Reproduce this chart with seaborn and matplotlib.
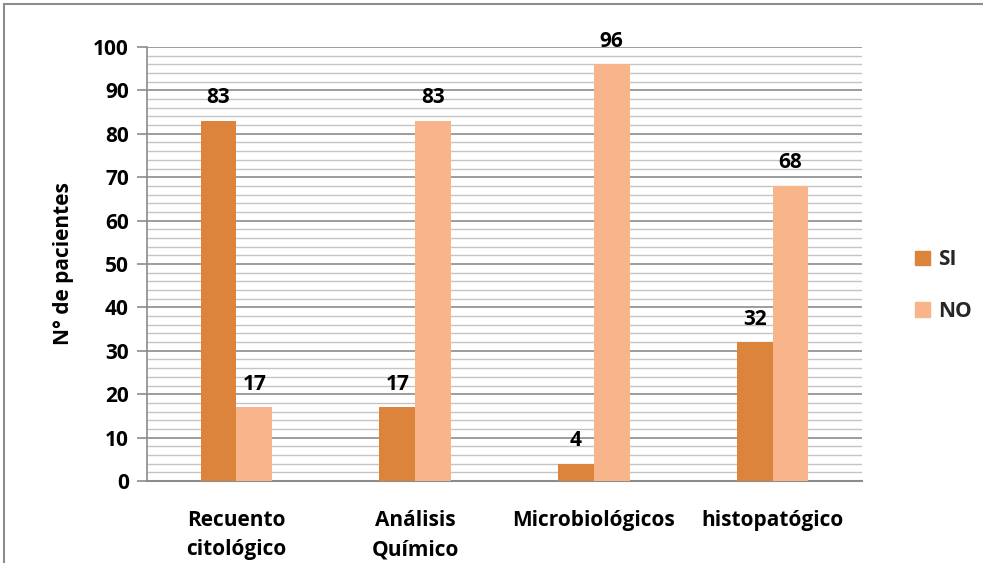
import matplotlib
matplotlib.use("Agg")
import matplotlib.pyplot as plt
from matplotlib.lines import Line2D
from matplotlib.ticker import MultipleLocator
import seaborn as sns
import pandas as pd

categorias = ["Recuento\ncitológico", "Análisis\nQuímico", "Microbiológicos", "histopatógico"]
si = [83, 17, 4, 32]
no = [17, 83, 96, 68]
series = ["SI", "NO"]
colores = {"SI": "#DD843C", "NO": "#F8B48B"}

df = pd.DataFrame({
    "categoria": categorias * 2,
    "serie": ["SI"] * len(si) + ["NO"] * len(no),
    "pacientes": si + no,
})

sns.set_theme(style="white")
plt.rcParams["font.family"] = ["Open Sans", "DejaVu Sans"]
plt.rcParams["font.weight"] = "bold"

FS = 15

fig = plt.figure(figsize=(9.83, 5.63), dpi=100)
ax = fig.add_axes([147 / 983, 1 - 481 / 563, (862 - 147) / 983, (481 - 47) / 563])

sns.barplot(data=df, x="categoria", y="pacientes", hue="serie", hue_order=series,
            palette=colores, width=0.4, gap=0, saturation=1, ax=ax, legend=False,
            edgecolor="none", linewidth=0, zorder=3)

for cont in ax.containers:
    ax.bar_label(cont, fmt="%d", padding=9, fontsize=FS, fontweight="bold", color="black")

ax.set_ylim(0, 100)
ax.set_xlim(-0.5, 3.5)
ax.yaxis.set_major_locator(MultipleLocator(10))
ax.yaxis.set_minor_locator(MultipleLocator(2))
ax.grid(which="major", axis="y", color="#8c8c8c", linewidth=1.2, zorder=0)
ax.grid(which="minor", axis="y", color="#c4c4c4", linewidth=1.0, zorder=0)
ax.set_axisbelow(True)

for side in ["top", "right"]:
    ax.spines[side].set_visible(False)
ax.spines["left"].set_color("#8c8c8c")
ax.spines["left"].set_linewidth(1.2)
ax.spines["bottom"].set_color("#8c8c8c")
ax.spines["bottom"].set_linewidth(1.5)

ax.tick_params(axis="y", which="major", length=7, width=1.2, color="#8c8c8c",
               labelsize=FS, pad=6, left=True)
ax.tick_params(axis="y", which="minor", length=0)
ax.tick_params(axis="x", length=0, labelsize=FS, pad=21)
for lab in ax.get_xticklabels() + ax.get_yticklabels():
    lab.set_fontweight("bold")
    lab.set_color("black")
for lab in ax.get_xticklabels():
    lab.set_linespacing(1.5)

ax.set_xlabel("")
ax.set_ylabel("N° de pacientes", fontsize=FS, fontweight="bold", color="black", labelpad=14)

handles = [plt.Rectangle((0, 0), 1, 1, color=colores[s]) for s in series]
fig.legend(handles, series, loc="center left", bbox_to_anchor=(0.912, 0.493),
           frameon=False, prop={"weight": "bold", "size": FS},
           handlelength=0.7, handleheight=0.7, handletextpad=0.4, labelspacing=1.45)

# outer frame of the chart area
fig.add_artist(Line2D([4 / 983, 1], [1 - 4 / 563, 1 - 4 / 563], transform=fig.transFigure,
                      color="#8c8c8c", linewidth=1.5))
fig.add_artist(Line2D([4 / 983, 4 / 983], [0, 1 - 4 / 563], transform=fig.transFigure,
                      color="#8c8c8c", linewidth=1.5))

fig.savefig("out.png", dpi=100)
